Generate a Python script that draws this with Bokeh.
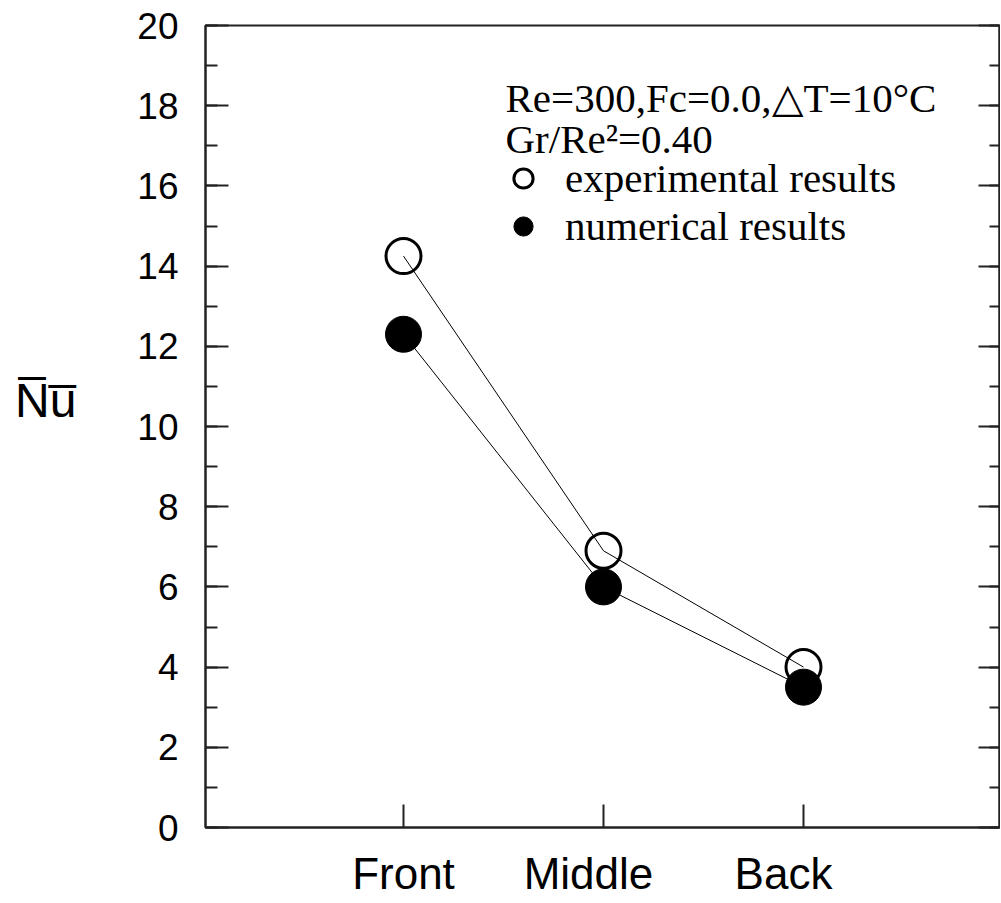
from bokeh.plotting import figure
from bokeh.models import (LinearAxis, SingleIntervalTicker, FixedTicker, Label,
                          Legend, LegendItem, Range1d, CustomJSTickFormatter)
from bokeh.embed import file_html
from bokeh.resources import INLINE

# ---- data ----
categories = ["Front", "Middle", "Back"]
cat_pos = [1, 2, 3]
experimental = [14.25, 6.9, 4.0]
numerical = [12.3, 6.0, 3.5]
y_ticks_interval = 2
header_lines = ["Re=300,Fc=0.0,\u25b3T=10\u00b0C", "Gr/Re\u00b2=0.40"]
series_labels = ["experimental results", "numerical results"]
y_title = "N\u0305u\u0305"

SANS = "Liberation Sans"
SERIF = "Liberation Serif"
AX = "#222222"

# pixel nudges of the category labels relative to their ticks (layout only)
PX_PER_X = 200.0
cat_label_shift_px = [0, -15, -20]
cat_label_pos = [c + s / PX_PER_X for c, s in zip(cat_pos, cat_label_shift_px)]

p = figure(width=1000, height=902, output_backend="svg", toolbar_location=None,
           x_range=Range1d(0.01, 3.98), y_range=Range1d(0, 20),
           x_axis_type=None, y_axis_type=None,
           min_border_left=205, min_border_right=1, min_border_top=25,
           min_border_bottom=75)
p.outline_line_color = AX
p.outline_line_width = 2
p.background_fill_color = "white"
p.border_fill_color = "white"

blank = CustomJSTickFormatter(code="return ''")


def style_y(axis, labels=True, maj=23, mnr=12):
    axis.ticker = SingleIntervalTicker(interval=y_ticks_interval, num_minor_ticks=2)
    axis.axis_line_color = AX
    axis.axis_line_width = 2
    axis.major_tick_line_color = AX
    axis.major_tick_line_width = 2
    axis.minor_tick_line_color = AX
    axis.minor_tick_line_width = 2
    axis.major_tick_in = maj
    axis.major_tick_out = 0
    axis.minor_tick_in = mnr
    axis.minor_tick_out = 0
    if labels:
        axis.major_label_text_font = SANS
        axis.major_label_text_font_size = "37px"
        axis.major_label_text_color = "black"
        axis.major_label_standoff = 27
    else:
        axis.formatter = blank
        axis.major_label_standoff = 0


yl = LinearAxis(axis_label=y_title + "\n ")
style_y(yl)
yl.axis_label_orientation = "horizontal"
yl.axis_label_text_font = SANS
yl.axis_label_text_font_size = "48px"
yl.axis_label_text_font_style = "normal"
yl.axis_label_text_color = "black"
yl.axis_label_text_line_height = 1.0
yl.axis_label_standoff = 58
p.add_layout(yl, "left")

yr = LinearAxis()
style_y(yr, labels=False, maj=21, mnr=10)
p.add_layout(yr, "right")

xb = LinearAxis(ticker=FixedTicker(ticks=cat_label_pos, minor_ticks=cat_pos))
xb.formatter = CustomJSTickFormatter(args=dict(names=categories),
                                     code="return names[index]")
xb.axis_line_color = AX
xb.axis_line_width = 2
xb.major_tick_line_alpha = 0
xb.major_tick_in = 0
xb.major_tick_out = 0
xb.minor_tick_line_color = AX
xb.minor_tick_line_width = 2
xb.minor_tick_in = 23
xb.minor_tick_out = 0
xb.major_label_text_font = SANS
xb.major_label_text_font_size = "44px"
xb.major_label_text_color = "black"
xb.major_label_standoff = 21
p.add_layout(xb, "below")

# ---- series ----
p.line(cat_pos, experimental, line_color="black", line_width=1)
p.line(cat_pos, numerical, line_color="black", line_width=1)
r_exp = p.scatter(cat_pos, experimental, size=35, marker="circle",
                  fill_alpha=0, line_color="black", line_width=3)
r_num = p.scatter(cat_pos, numerical, size=36, marker="circle",
                  fill_color="black", line_color="black", line_width=1)

# ---- header text ----
for txt, yy in zip(header_lines, [18.2, 17.18]):
    p.add_layout(Label(x=1.51, y=yy, text=txt, text_font=SERIF,
                       text_font_size="41px", text_baseline="alphabetic",
                       text_color="black"))

# ---- legend ----
legend = Legend(items=[LegendItem(label=series_labels[0], renderers=[r_exp]),
                       LegendItem(label=series_labels[1], renderers=[r_num])],
                location=(292, 577), orientation="vertical",
                glyph_width=52, glyph_height=48, spacing=0,
                label_standoff=16, padding=0, margin=0,
                label_text_font=SERIF, label_text_font_size="41px",
                label_text_color="black",
                border_line_alpha=0, background_fill_alpha=0)
p.add_layout(legend, "center")

open("out.html", "w").write(file_html(p, INLINE))
